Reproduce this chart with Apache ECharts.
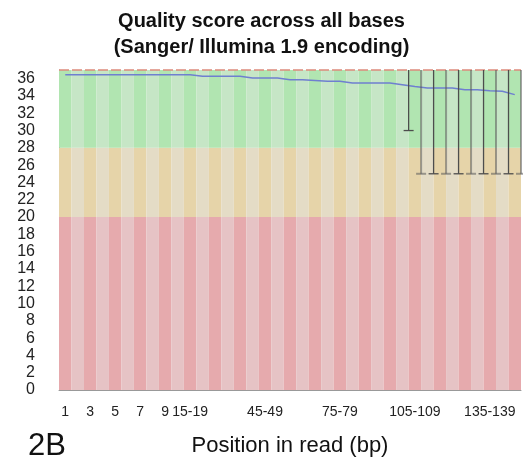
<!DOCTYPE html>
<html>
<head>
<meta charset="utf-8">
<script src="https://cdn.jsdelivr.net/npm/echarts@6/dist/echarts.min.js"></script>
<style>html,body{margin:0;padding:0;background:#fff}#c{width:523px;height:463px}</style>
</head>
<body>
<div id="c"></div>
<script>
// Categories (base positions)
const categories = ['1','2','3','4','5','6','7','8','9',
  '10-14','15-19','20-24','25-29','30-34','35-39','40-44','45-49','50-54','55-59',
  '60-64','65-69','70-74','75-79','80-84','85-89','90-94','95-99','100-104','105-109',
  '110-114','115-119','120-124','125-129','130-134','135-139','140-144','145-149'];
// Mean quality per position
const meanQuality = [36.45,36.45,36.45,36.45,36.45,36.45,36.45,36.45,36.45,36.45,36.45,
  36.27,36.27,36.27,36.27,
  36.07,36.07,36.07,
  35.88,35.88,
  35.8,
  35.7,35.7,
  35.5,35.5,35.5,35.5,
  35.3,
  35.1,
  34.92,34.92,34.92,
  34.72,34.72,
  34.6,
  34.55,
  34.15];
// Median line value
const medianQuality = 37;
// Quality bands (upper limits): poor, reasonable, good
const bandLimits = [20, 28, 37];
// Whiskers: boundary position, lower, upper
const whiskerPos = [28,29,30,31,32,33,34,35,36,37];
const whiskerLow = [30,25,25,25,25,25,25,25,25,25];
const whiskerHigh = [37,37,37,37,37,37,37,37,37,37];
// Labelled category indices
const labelledIdx = [0,2,4,6,8,10,16,22,28,34];
const yTicks = [0,2,4,6,8,10,12,14,16,18,20,22,24,26,28,30,32,34,36];

const bandColors = [
  ['#e6aaad','#e6c3c5'],
  ['#e6d4a9','#e4dcc6'],
  ['#b1e5b1','#c6e6c6']
];

const bandSeries = bandLimits.map((lim, b) => {
  const h = lim - (b === 0 ? 0 : bandLimits[b-1]);
  return {
    type: 'bar', stack: 'bands', silent: true,
    barCategoryGap: '0%', barGap: '0%',
    data: categories.map(() => h),
    itemStyle: { color: p => bandColors[b][p.dataIndex % 2] },
    z: 1
  };
});

const whiskerData = whiskerPos.map((x, i) => [x, whiskerLow[i], whiskerHigh[i]]);

const chart = echarts.init(document.getElementById('c'), null, {renderer: 'canvas'});
chart.setOption({
  animation: false,
  title: {
    text: 'Quality score across all bases\n(Sanger/ Illumina 1.9 encoding)',
    left: 'center', top: 3,
    textStyle: { fontFamily: 'Liberation Sans', fontWeight: 'bold', fontSize: 20, lineHeight: 26, color: '#111' }
  },
  grid: { left: 59, right: 2, top: 70, bottom: 73, containLabel: false },
  xAxis: [{
    type: 'category', data: categories, boundaryGap: true,
    axisLine: { show: true, lineStyle: { color: '#999', width: 1 } },
    axisTick: { show: false },
    axisLabel: {
      interval: 0, margin: 15,
      formatter: (v, i) => labelledIdx.includes(i) ? v : '',
      fontFamily: 'Liberation Sans', fontSize: 14, color: '#222'
    },
    name: 'Position in read (bp)', nameLocation: 'middle', nameGap: 45,
    nameTextStyle: { fontFamily: 'Liberation Sans', fontSize: 22, color: '#111' }
  }, {
    type: 'value', min: 0, max: 37, show: false
  }],
  yAxis: {
    type: 'value', min: 0, max: 37, interval: 2,
    axisLine: { show: true, lineStyle: { color: '#999', width: 1 } },
    axisTick: { show: false },
    splitLine: { show: false },
    axisLabel: {
      margin: 24,
      formatter: v => yTicks.includes(v) ? String(v) : '',
      fontFamily: 'Liberation Sans', fontSize: 16, color: '#222'
    }
  },
  series: [
    ...bandSeries,
    {
      type: 'line', data: meanQuality, symbol: 'none', silent: true,
      lineStyle: { color: '#6f7fd0', width: 1.5 }, z: 5,
      markLine: {
        silent: true, symbol: 'none', label: { show: false },
        lineStyle: { color: '#dd8a7c', type: [10, 3], width: 1.5 },
        data: [{ yAxis: medianQuality }]
      }
    },
    {
      type: 'custom', xAxisIndex: 1, yAxisIndex: 0, silent: true, z: 6,
      data: whiskerData,
      renderItem: (params, api) => {
        const x = api.value(0);
        const top = api.coord([x, api.value(2)]);
        const bot = api.coord([x, api.value(1)]);
        const dark = params.dataIndex % 2 === 0;
        const style = dark ? { stroke: '#4d4d4d', lineWidth: 1.3 } : { stroke: 'rgba(90,90,90,0.55)', lineWidth: 2 };
        return { type: 'group', children: [
          { type: 'line', shape: { x1: top[0], y1: top[1], x2: bot[0], y2: bot[1] }, style },
          { type: 'line', shape: { x1: bot[0] - 5, y1: bot[1], x2: bot[0] + 5, y2: bot[1] }, style }
        ]};
      }
    }
  ],
  graphic: [{
    type: 'text', left: 28, top: 431,
    style: { text: '2B', fontFamily: 'Liberation Sans', fontSize: 31, fill: '#111' }
  }]
});
</script>
</body>
</html>
